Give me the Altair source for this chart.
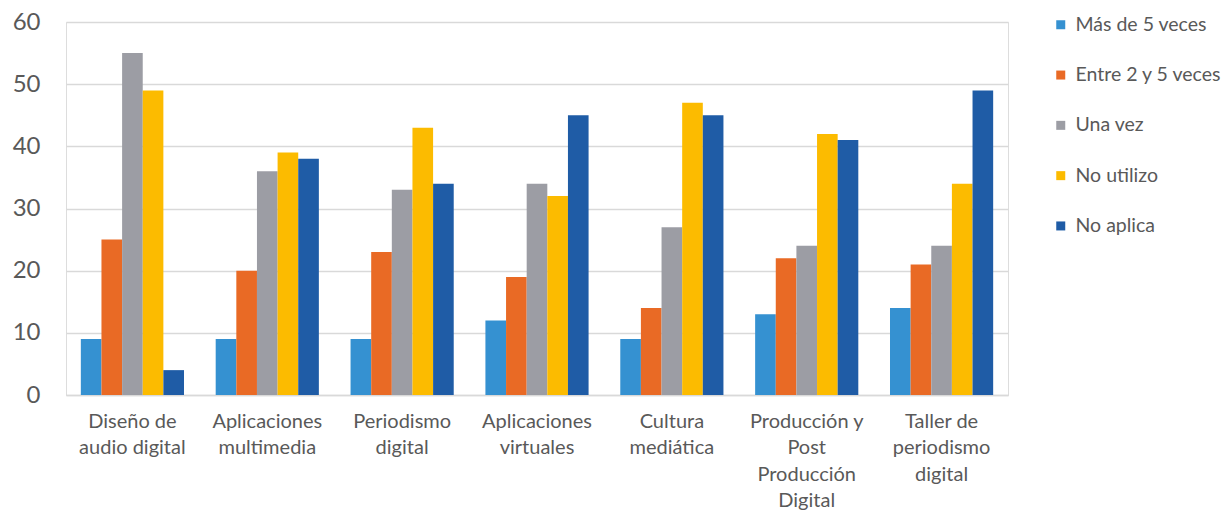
import altair as alt
import pandas as pd

# Courses (x-axis groups); "|" marks a line break in the axis label
courses = [
    "Diseño de|audio digital",
    "Aplicaciones|multimedia",
    "Periodismo|digital",
    "Aplicaciones|virtuales",
    "Cultura|mediática",
    "Producción y|Post|Producción|Digital",
    "Taller de|periodismo|digital",
]

series = ["Más de 5 veces", "Entre 2 y 5 veces", "Una vez", "No utilizo", "No aplica"]
colors = ["#3591D1", "#E96A25", "#9C9DA4", "#FCBB00", "#1F5CA6"]

mas_de_5 = [9, 9, 9, 12, 9, 13, 14]
entre_2_y_5 = [25, 20, 23, 19, 14, 22, 21]
una_vez = [55, 36, 33, 34, 27, 24, 24]
no_utilizo = [49, 39, 43, 32, 47, 42, 34]
no_aplica = [4, 38, 34, 45, 45, 41, 49]

values = [mas_de_5, entre_2_y_5, una_vez, no_utilizo, no_aplica]

rows = []
for name, vals in zip(series, values):
    for course, v in zip(courses, vals):
        rows.append({"curso": course, "serie": name, "valor": v})
df = pd.DataFrame(rows)

FONT = "Lato"
TEXT = "#595959"
GRID = "#D9D9D9"

chart = (
    alt.Chart(df)
    .mark_bar()
    .encode(
        x=alt.X(
            "curso:N",
            sort=courses,
            title=None,
            scale=alt.Scale(paddingInner=0.235, paddingOuter=0.11),
            axis=alt.Axis(
                labelAngle=0,
                labelExpr="split(datum.label, '|')",
                labelFont=FONT,
                labelFontSize=20,
                labelColor=TEXT,
                labelLineHeight=26.5,
                labelPadding=16,
                labelLimit=200,
                ticks=False,
                domainColor=GRID,
                domainWidth=1.5,
                grid=False,
            ),
        ),
        xOffset=alt.XOffset("serie:N", sort=series, scale=alt.Scale(paddingInner=0, paddingOuter=0)),
        y=alt.Y(
            "valor:Q",
            title=None,
            scale=alt.Scale(domain=[0, 60], nice=False),
            axis=alt.Axis(
                values=[0, 10, 20, 30, 40, 50, 60],
                labelFont=FONT,
                labelFontSize=24,
                labelColor=TEXT,
                labelPadding=26,
                ticks=False,
                domain=False,
                gridColor=GRID,
                gridWidth=1.5,
            ),
        ),
        color=alt.Color(
            "serie:N",
            sort=series,
            scale=alt.Scale(domain=series, range=colors),
            legend=alt.Legend(
                title=None,
                orient="none",
                legendX=985,
                legendY=-7,
                symbolType="square",
                symbolSize=81,
                symbolStrokeWidth=0,
                labelFont=FONT,
                labelFontSize=19.5,
                labelColor=TEXT,
                labelOffset=5,
                rowPadding=29.3,
            ),
        ),
    )
    .properties(
        width=942,
        height=373,
        padding={"left": 66, "top": 22, "right": 220, "bottom": 116},
        autosize=alt.AutoSizeParams(type="none"),
    )
    .configure_view(stroke=None)
    .configure(background="white")
)

chart.save("out.html", embed_options={"renderer": "svg", "actions": False})
